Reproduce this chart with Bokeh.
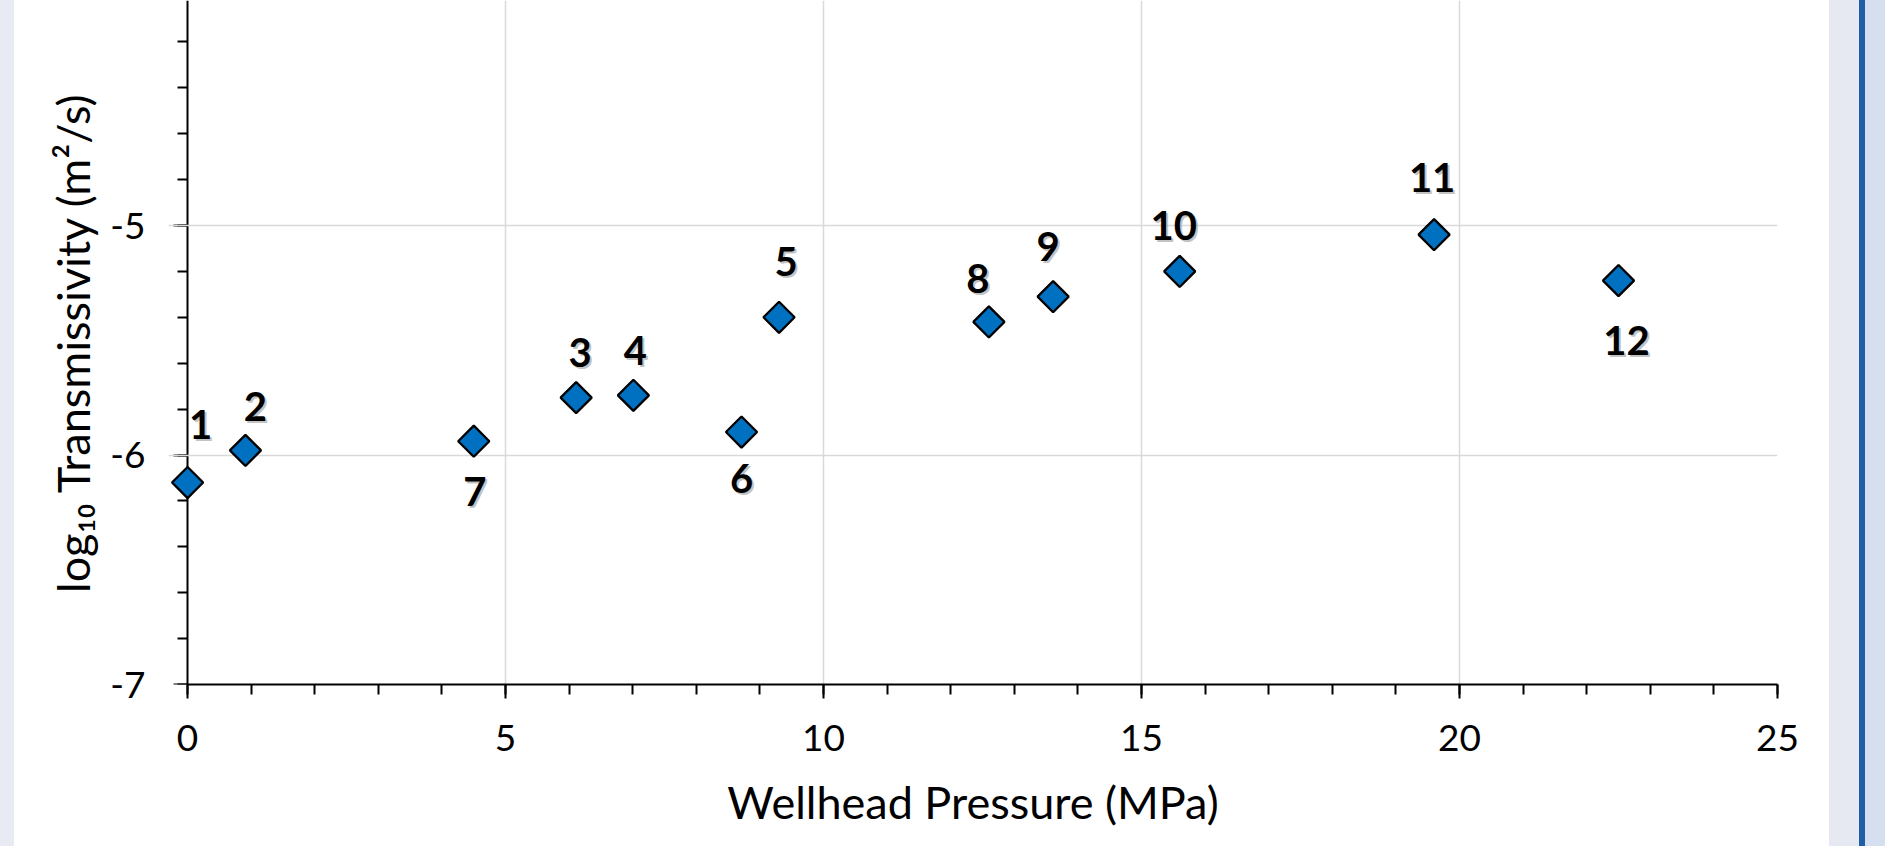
import numpy as np
from bokeh.plotting import figure
from bokeh.models import ColumnDataSource, FixedTicker, Range1d, LinearAxis
from bokeh.core.properties import value
from bokeh.embed import file_html
from bokeh.resources import INLINE

# ---- data ----
point_labels = ["1", "2", "3", "4", "5", "6", "7", "8", "9", "10", "11", "12"]
pressure = [0.0, 0.91, 6.11, 7.01, 9.30, 8.71, 4.50, 12.60, 13.61, 15.60, 19.60, 22.50]
log_transmissivity = [-6.12, -5.98, -5.75, -5.74, -5.40, -5.90, -5.94, -5.42, -5.31, -5.20, -5.04, -5.24]
x_major_ticks = [0, 5, 10, 15, 20, 25]
y_major_ticks = [-7, -6, -5, -4]
y_tick_labels = {-7: "-7", -6: "-6", -5: "-5", -4: "-4"}

# ---- label placement (screen px) ----
label_dx = [13, 10, 4, 2, 7, 0, 1, -11, -5, -6, -2, 8]
label_dy = [-58, -44, -45, -45, -56, 46, 50, -43, -50, -46, -57, 60]

FONT = "Lato"

src = ColumnDataSource(dict(x=pressure, y=log_transmissivity, t=point_labels,
                            dx=label_dx, dy=label_dy,
                            sdx=[d + 2 for d in label_dx], sdy=[d + 2 for d in label_dy]))

p = figure(width=1885, height=846, x_range=Range1d(-0.3, 25), y_range=Range1d(-7, -4.0196),
           output_backend="svg", toolbar_location=None,
           min_border_left=168, min_border_right=108, min_border_top=0, min_border_bottom=162)
p.outline_line_color = None
p.background_fill_color = "white"
p.border_fill_color = None

y_minor = [round(-7 + 0.2 * i, 1) for i in range(16)]

# x axis
p.xaxis.ticker = FixedTicker(ticks=x_major_ticks, minor_ticks=list(range(0, 26)))
p.xaxis.bounds = (x_major_ticks[0], x_major_ticks[-1])

# y axis (labels + title only, at the frame edge)
lab_ax = p.yaxis[0]
lab_ax.ticker = FixedTicker(ticks=y_major_ticks, minor_ticks=y_minor)
lab_ax.major_label_overrides = y_tick_labels
lab_ax.axis_line_color = None
lab_ax.major_tick_line_color = None
lab_ax.minor_tick_line_color = None
lab_ax.major_tick_out = 0
lab_ax.minor_tick_out = 0
lab_ax.major_tick_in = 0
lab_ax.minor_tick_in = 0

# y axis line and ticks, pinned at x = 0 (drawn beneath the markers)
line_ax = LinearAxis(fixed_location=0,
                     ticker=FixedTicker(ticks=y_major_ticks, minor_ticks=y_minor),
                     major_label_overrides={t: "" for t in y_major_ticks},
                     major_label_standoff=0)
line_ax.level = "underlay"
p.add_layout(line_ax, "left")

p.xgrid.ticker = FixedTicker(ticks=x_major_ticks[1:])
p.ygrid.ticker = FixedTicker(ticks=y_major_ticks)
for g in (p.xgrid, p.ygrid):
    g.grid_line_color = "#D9D9D9"
    g.grid_line_width = 1.5

for ax in (p.xaxis[0], line_ax):
    ax.axis_line_color = "black"
    ax.axis_line_width = 2
    ax.major_tick_line_color = "black"
    ax.major_tick_line_width = 2
    ax.minor_tick_line_color = "black"
    ax.minor_tick_line_width = 2
    ax.major_tick_in = 0
    ax.major_tick_out = 14
    ax.minor_tick_in = 0
    ax.minor_tick_out = 10

for ax in (p.xaxis[0], lab_ax):
    ax.major_label_text_font = FONT
    ax.major_label_text_font_size = "37px"
    ax.major_label_text_color = "black"
    ax.axis_label_text_font = FONT
    ax.axis_label_text_font_size = "45px"
    ax.axis_label_text_font_style = "normal"
    ax.axis_label_text_color = "black"

p.xaxis.axis_label = "Wellhead Pressure (MPa)"
lab_ax.axis_label = "log\u2081\u2080 Transmissivity (m\u00b2/s)"
p.xaxis.major_label_standoff = 26
lab_ax.major_label_standoff = 23
p.xaxis.axis_label_standoff = 21
lab_ax.axis_label_standoff = 7

# points
p.scatter("x", "y", source=src, marker="square", size=22, angle=np.pi / 4,
          fill_color="#0070C0", line_color="black", line_width=2.3)

# labels with soft shadow
p.text("x", "y", text="t", source=src, x_offset="sdx", y_offset="sdy",
       text_font=value(FONT), text_font_style="bold", text_font_size="40px",
       text_align="center", text_baseline="middle", text_color="#9A9A9A", text_alpha=0.6)
p.text("x", "y", text="t", source=src, x_offset="dx", y_offset="dy",
       text_font=value(FONT), text_font_style="bold", text_font_size="40px",
       text_align="center", text_baseline="middle", text_color="black")

html = file_html(p, INLINE)
band_css = ("<style>body{background:linear-gradient(to right,#E8EBF3 0px,#E8EBF3 14px,#FFFFFF 14px,"
            "#FFFFFF 1829px,#E6E9F2 1829px,#E6E9F2 1859px,#1F5FA5 1859px,#1F5FA5 1865px,"
            "#D6DFF0 1865px,#D6DFF0 100%) !important;}</style>")
html = html.replace("</head>", band_css + "</head>")
open("out.html", "w").write(html)
